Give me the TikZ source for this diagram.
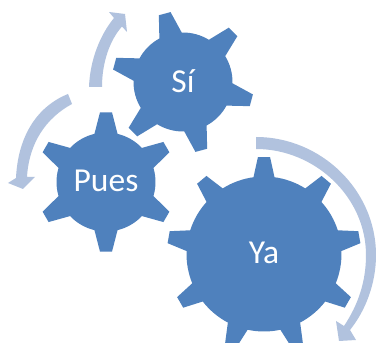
\documentclass[tikz,border=0pt]{standalone}
\usepackage{fontspec}
\setmainfont{Carlito}
\definecolor{gearblue}{HTML}{4F81BD}
\definecolor{arrowblue}{HTML}{B1C2DE}
\tikzset{
  x=1pt,y=1pt,
  geartext/.style={text=white,inner sep=0pt,font=\fontsize{33.5}{33.5}\selectfont},
  arrowshape/.style={fill=arrowblue,draw=none},
  gearshape/.style={fill=gearblue,draw=none}
}
% centre x, centre y (from top), body radius, tip radius, first tooth angle, half angle at base, half angle at tip
\newcommand{\sixgear}[7]{%
  \begin{scope}[shift={(#1,343-#2)}]
    \fill[gearshape] ({#5-#6}:#3)
      \foreach \k in {0,...,5}{
        -- ({#5+60*\k-#6}:#3) -- ({#5+60*\k-#7}:#4) -- ({#5+60*\k+#7}:#4) -- ({#5+60*\k+#6}:#3)
        arc[start angle={#5+60*\k+#6},end angle={#5+60*(\k+1)-#6},radius=#3]
      } -- cycle;
  \end{scope}}
\newcommand{\ninegear}[7]{%
  \begin{scope}[shift={(#1,343-#2)}]
    \fill[gearshape] ({#5-#6}:#3)
      \foreach \k in {0,...,8}{
        -- ({#5+40*\k-#6}:#3) -- ({#5+40*\k-#7}:#4) -- ({#5+40*\k+#7}:#4) -- ({#5+40*\k+#6}:#3)
        arc[start angle={#5+40*\k+#6},end angle={#5+40*(\k+1)-#6},radius=#3]
      } -- cycle;
  \end{scope}}
\begin{document}
\begin{tikzpicture}
\path[use as bounding box,clip] (0,0) rectangle (376,343);
\fill[white] (0,0) rectangle (376,343);
% gears
\sixgear{183}{82}{49.5}{71}{45}{13.5}{4.9}
\sixgear{106}{182}{49.5}{70}{30}{13.5}{4.9}
\ninegear{264}{254}{77.5}{97}{10}{7.8}{3.6}
% arrows
\fill[arrowshape] (256,343-137) .. controls (321,343-137) and (376,343-190) .. (376,343-255)
  .. controls (376,343-283) and (366,343-310) .. (350,343-330)
  -- (356,343-340) -- (339,343-341) -- (336,343-321) -- (344,343-326)
  .. controls (358,343-305) and (366,343-282) .. (366,343-255)
  .. controls (366,343-197) and (315,343-149) .. (256,343-149) -- cycle;
\fill[arrowshape] (68,343-94) .. controls (38,343-106) and (18,343-135) .. (16,343-178)
  -- (8,343-183) -- (23,343-189) -- (35,343-177) -- (27,343-177)
  .. controls (29,343-143) and (46,343-118) .. (72,343-104) -- cycle;
\fill[arrowshape] (89,343-87) .. controls (90,343-60) and (100,343-35) .. (114,343-18)
  -- (109,343-12) -- (125,343-14) -- (127,343-32) -- (122,343-26.5)
  .. controls (110,343-40) and (102,343-62) .. (102,343-87) -- cycle;
% labels
\node[geartext] (si) at (183,343-81) {Sí};
\node[geartext] (pues) at (106,343-181) {Pues};
\node[geartext] (ya) at (264,343-253) {Ya};
\end{tikzpicture}
\end{document}
